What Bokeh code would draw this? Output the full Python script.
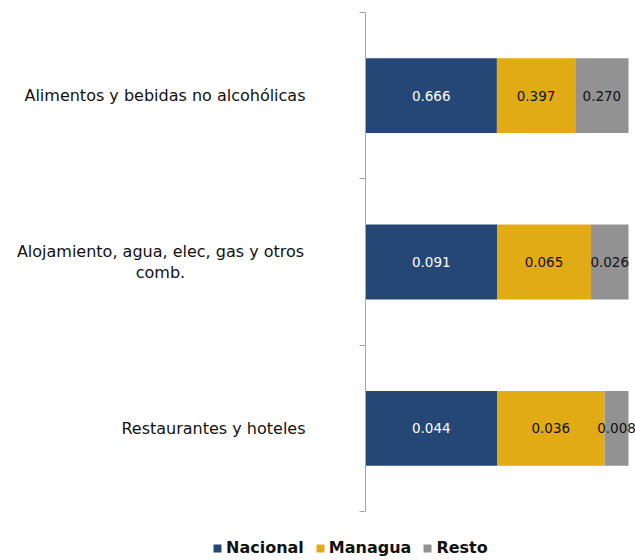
from bokeh.plotting import figure
from bokeh.models import ColumnDataSource, FixedTicker, Legend, LegendItem, Range1d
from bokeh.core.properties import value
from bokeh.embed import file_html
from bokeh.resources import INLINE

# ---- data ----
categories = ["Alimentos y bebidas no alcohólicas",
              "Alojamiento, agua, elec, gas y otros\ncomb.",
              "Restaurantes y hoteles"]
series = ["Nacional", "Managua", "Resto"]
nacional = [0.666, 0.091, 0.044]
managua = [0.397, 0.065, 0.036]
resto = [0.270, 0.026, 0.008]
colors = ["#254775", "#E1AB15", "#929292"]
label_colors = ["white", "#111111", "#111111"]

n = len(categories)
ypos = [n - i - 0.5 for i in range(n)]  # top category first
totals = [a + b + c for a, b, c in zip(nacional, managua, resto)]
vals = {"Nacional": nacional, "Managua": managua, "Resto": resto}
data = {"y": ypos}
for s in series:
    data[s] = [v / t for v, t in zip(vals[s], totals)]
source = ColumnDataSource(data)

# ---- layout (pixels) ----
W, H = 635, 560
AX_X, BAR_END = 365, 628          # axis position and end of the 100% bars
TOP, BOTTOM = 12, 511             # extent of the category axis
sx = BAR_END - AX_X               # px per unit of share
sy = (BOTTOM - TOP) / n           # px per category
x_range = Range1d(-AX_X / sx, (W - AX_X) / sx)
y_range = Range1d(-(H - BOTTOM) / sy, n + TOP / sy)

p = figure(width=W, height=H, output_backend="svg", toolbar_location=None,
           x_range=x_range, y_range=y_range,
           min_border_left=0, min_border_right=0, min_border_top=0, min_border_bottom=0)
p.outline_line_color = None
p.xgrid.visible = False
p.ygrid.visible = False
p.xaxis.visible = False

renderers = p.hbar_stack(series, y="y", height=0.45, color=colors, source=source,
                         line_color=None)

# value labels
left = [0.0] * n
for s, vlist, lc in zip(series, [nacional, managua, resto], label_colors):
    shares = data[s]
    xs = [l + sh / 2 for l, sh in zip(left, shares)]
    left = [l + sh for l, sh in zip(left, shares)]
    src = ColumnDataSource(dict(x=xs, y=ypos, t=[f"{v:.3f}" for v in vlist]))
    p.text(x="x", y="y", text="t", source=src, text_align="center", text_baseline="middle",
           text_color=lc, text_font=value("DejaVu Sans"), text_font_size="13.5px")

# category axis (line + boundary ticks only)
ticks = [float(i) for i in range(n + 1)]
yax = p.yaxis[0]
yax.fixed_location = 0
yax.bounds = (0, n)
yax.ticker = FixedTicker(ticks=ticks)
yax.major_label_overrides = {t: "" for t in ticks}
yax.major_tick_line_color = "#A6A6A6"
yax.major_tick_out = 6
yax.major_tick_in = 0
yax.minor_tick_line_color = None
yax.axis_line_color = "#A6A6A6"

# category labels: right edge 60px left of the axis, multi-line label centred on itself
LABEL_RIGHT, MULTI_CENTER = 305, 160
cat_x, cat_align = [], []
for c in categories:
    if "\n" in c:
        cat_x.append((MULTI_CENTER - AX_X) / sx)
        cat_align.append("center")
    else:
        cat_x.append((LABEL_RIGHT - AX_X) / sx)
        cat_align.append("right")
csrc = ColumnDataSource(dict(x=cat_x, y=ypos, t=categories, a=cat_align))
p.text(x="x", y="y", text="t", source=csrc, text_align="a", text_baseline="middle",
       text_color="#111111", text_font=value("DejaVu Sans"), text_font_size="16px",
       text_line_height=1.13)

legend = Legend(items=[LegendItem(label=s, renderers=[r]) for s, r in zip(series, renderers)],
                orientation="horizontal", location=(212, 3),
                glyph_width=10, glyph_height=10, label_standoff=4, spacing=11,
                padding=0, margin=0, border_line_color=None, background_fill_alpha=0,
                label_text_font="DejaVu Sans", label_text_font_style="bold",
                label_text_font_size="16px", label_text_color="#111111",
                label_height=16)
p.add_layout(legend, "center")

open("out.html", "w").write(file_html(p, INLINE))
